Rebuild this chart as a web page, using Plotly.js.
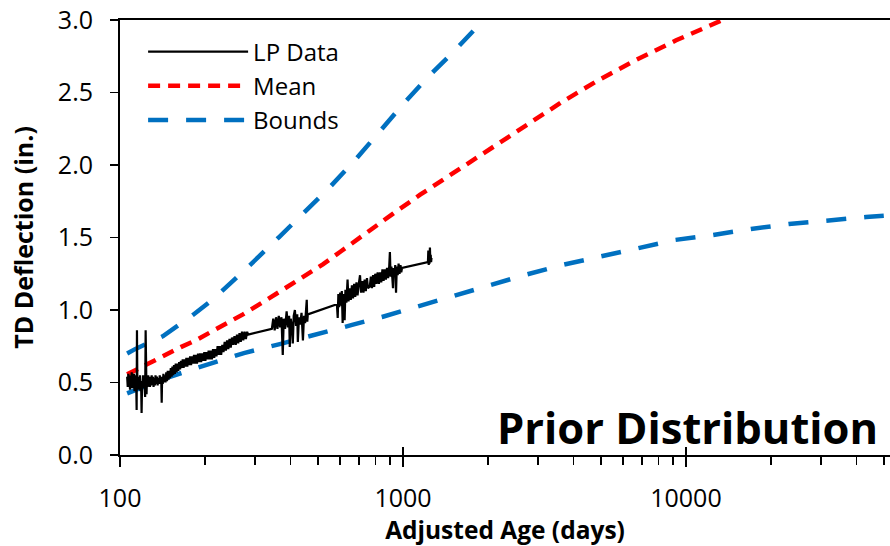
<!DOCTYPE html>
<html>
<head>
<meta charset="utf-8">
<script src="https://cdn.plot.ly/plotly-3.0.1.min.js"></script>
<style>
  html, body { margin: 0; padding: 0; background: #fff; }
  #chart { width: 890px; height: 546px; }
</style>
</head>
<body>
<div id="chart"></div>
<script>
// Measured TD deflection (in.) against adjusted age (days)
const lpDays = [
  106, 106.5, 107, 107.5, 108, 108.5, 109, 109.5, 110, 110.5, 111, 111.5, 112, 112.5, 113, 113.5,
  114, 114.5, 114.8, 115.2, 115.7, 116.2, 116.7, 117.2, 117.7, 118.2, 118.7, 119.2, 119.7, 120.2,
  120.7, 121.2, 121.7, 122.2, 122.7, 123.2, 123.6,
  124.1, 124.6, 125.2, 125.8, 126.4, 127, 127.6, 128.2, 128.8, 129.4,
  130, 130.7, 131.4, 132.1, 132.8, 133.5, 134.2, 135, 135.8, 136.6,
  137.4, 138.2, 139, 139.8, 140.4, 140.9, 141.6, 142.4, 143.2, 144,
  144.8, 145.7, 146.6, 147.5, 148.4, 149.3, 150.2, 151.2, 152.2, 153.2,
  154.2, 155.2, 156.3, 157.4, 158.5, 159.6, 160.7, 161.8, 163, 164.2,
  165.4, 166.6, 167.8, 169, 170.3, 171.6, 172.9, 174.2, 175.5, 176.9,
  178.3, 179.7, 181.1, 182.6, 184.1, 185.6, 187.1, 188.7, 190.3, 191.9,
  193.5, 195.2, 196.9, 198.6, 200.3, 202.1, 203.9, 205.7, 207.5, 209.4,
  211.3, 213.2, 215.2, 217.2, 219.2, 221.3, 223.4, 225.5, 227.7, 229.9,
  232.1, 234.4, 236.7, 239, 241.4, 243.8, 246.2, 248.7, 251.2, 253.8,
  256.4, 259, 261.7, 264.4, 267.1, 269.9, 272.7, 275.6, 278.5, 281.4,
  283.5,
  344, 348, 352, 356, 360, 364, 368, 372, 376, 379, 383, 388, 392, 396, 398, 401, 405, 408, 411,
  415, 419, 423, 425, 429, 433, 438, 443, 447, 451, 455, 457, 459, 461,
  584, 588, 591, 595, 600, 605, 608, 612, 616, 619, 622, 626, 631, 637, 642, 648, 654, 660, 666,
  672, 678, 685, 691, 698, 705, 711, 718, 725, 732, 739, 746, 752,
  763, 770, 777, 784, 791, 798, 806, 814, 822, 830, 838, 846, 854, 862, 870, 878, 886, 894, 899,
  904, 910, 917, 922, 927, 933, 939, 945, 951, 958, 965, 972, 980, 986, 992,
  1225, 1229, 1233, 1237, 1241, 1245, 1249, 1253, 1257, 1261
];
const lpDefl = [
  0.54, 0.47, 0.56, 0.49, 0.53, 0.45, 0.55, 0.50, 0.57, 0.46, 0.52, 0.48, 0.56, 0.44, 0.53, 0.49,
  0.55, 0.31, 0.86, 0.47, 0.54, 0.45, 0.52, 0.48, 0.55, 0.44, 0.51, 0.29, 0.50, 0.47,
  0.55, 0.46, 0.53, 0.48, 0.40, 0.86, 0.50,
  0.42, 0.54, 0.47, 0.55, 0.48, 0.54, 0.47, 0.53, 0.48, 0.55,
  0.49, 0.54, 0.47, 0.53, 0.48, 0.55, 0.49, 0.54, 0.48, 0.53,
  0.49, 0.55, 0.49, 0.54, 0.36, 0.54, 0.49, 0.56, 0.50, 0.55,
  0.50, 0.57, 0.51, 0.58, 0.52, 0.58, 0.53, 0.60, 0.54, 0.61,
  0.55, 0.62, 0.56, 0.63, 0.57, 0.63, 0.58, 0.64, 0.59, 0.65,
  0.60, 0.66, 0.60, 0.66, 0.61, 0.67, 0.61, 0.67, 0.62, 0.68,
  0.62, 0.68, 0.63, 0.69, 0.63, 0.69, 0.63, 0.70, 0.64, 0.70,
  0.64, 0.70, 0.65, 0.71, 0.65, 0.71, 0.66, 0.72, 0.66, 0.72,
  0.66, 0.73, 0.67, 0.73, 0.68, 0.75, 0.69, 0.75, 0.69, 0.76,
  0.71, 0.78, 0.72, 0.79, 0.73, 0.80, 0.74, 0.81, 0.76, 0.82,
  0.76, 0.83, 0.77, 0.84, 0.78, 0.85, 0.79, 0.85, 0.80, 0.85,
  0.83,
  0.87, 0.94, 0.86, 0.95, 0.87, 0.96, 0.88, 0.95, 0.69, 0.94, 0.87, 0.99, 0.88, 0.96, 0.745, 0.94, 0.89, 0.77, 0.96,
  1.00, 0.89, 0.97, 0.78, 0.95, 0.90, 0.98, 0.79, 0.96, 0.91, 0.99, 1.07, 0.92, 0.97,
  1.04, 0.945, 1.11, 1.02, 1.12, 1.03, 1.13, 0.91, 1.11, 1.04, 0.93, 1.14, 1.05, 1.21, 1.06, 1.15, 1.07, 1.17, 1.08,
  1.18, 1.09, 1.19, 1.10, 1.18, 1.24, 1.12, 1.20, 1.12, 1.21, 1.13, 1.22, 1.15,
  1.16, 1.23, 1.15, 1.24, 1.16, 1.25, 1.18, 1.26, 1.18, 1.26, 1.19, 1.28, 1.20, 1.28, 1.21, 1.29, 1.22, 1.30, 1.40,
  1.23, 1.30, 1.22, 1.15, 1.29, 1.23, 1.31, 1.12, 1.30, 1.24, 1.32, 1.25, 1.31, 1.26, 1.29,
  1.33, 1.41, 1.31, 1.39, 1.32, 1.43, 1.34, 1.38, 1.33, 1.36
];

// Prior mean prediction
const meanDays = [106, 126, 144, 164, 186, 211, 237, 272, 336, 386, 447, 521, 604, 750, 923, 1150,
  1443, 1982, 2679, 3614, 4850, 6660, 9230, 12880, 15000];
const meanDefl = [0.556, 0.632, 0.688, 0.744, 0.793, 0.85, 0.90, 0.97, 1.08, 1.155, 1.235, 1.315,
  1.405, 1.54, 1.665, 1.795, 1.92, 2.10, 2.26, 2.43, 2.58, 2.725, 2.86, 2.98, 3.04];

// Upper and lower prior bounds
const upperDays = [106, 113, 142, 181, 215, 251, 288, 365, 447, 552, 687, 849, 1016, 1216, 1490, 1841, 2100];
const upperDefl = [0.70, 0.73, 0.82, 0.966, 1.08, 1.20, 1.31, 1.503, 1.676, 1.848, 2.048, 2.262,
  2.434, 2.60, 2.77, 2.959, 3.08];
const lowerDays = [106, 111, 142, 182, 215, 274, 367, 479, 661, 843, 1077, 1466, 1982, 2679, 3645,
  4930, 6717, 9150, 12450, 16970, 23120, 31500, 43250, 50000];
const lowerDefl = [0.425, 0.441, 0.524, 0.593, 0.641, 0.703, 0.765, 0.828, 0.897, 0.952, 1.014, 1.09,
  1.166, 1.24, 1.31, 1.366, 1.428, 1.483, 1.517, 1.559, 1.593, 1.62, 1.641, 1.65];

// Axis ticks
const xMajorTicks = [100, 1000, 10000];
const xMajorLabels = ['100', '1000', '10000'];
const xMinorTicks = [200, 300, 400, 500, 600, 700, 800, 900,
  2000, 3000, 4000, 5000, 6000, 7000, 8000, 9000,
  20000, 30000, 40000, 50000];
const xRange = [100, 52600];

const FONT = '"Open Sans", Lato, "Liberation Sans", sans-serif';
const BLUE = '#0070C0';
const RED = '#FF0000';

const traces = [
  {
    x: upperDays, y: upperDefl, type: 'scatter', mode: 'lines', name: 'Bounds',
    legendgroup: 'bounds', legendrank: 3,
    line: { color: BLUE, width: 4.5, dash: '20px,18px' }
  },
  {
    x: lowerDays, y: lowerDefl, type: 'scatter', mode: 'lines', name: 'Bounds',
    legendgroup: 'bounds', showlegend: false,
    line: { color: BLUE, width: 4.5, dash: '20px,18px' }
  },
  {
    x: meanDays, y: meanDefl, type: 'scatter', mode: 'lines', name: 'Mean',
    legendrank: 2,
    line: { color: RED, width: 4.5, dash: '12px,8px' }
  },
  {
    x: lpDays, y: lpDefl, type: 'scatter', mode: 'lines', name: 'LP Data',
    legendrank: 1,
    line: { color: '#000', width: 2.2 }
  },
  {
    // carrier for the inward half of the major x ticks
    x: [], y: [], type: 'scatter', mode: 'lines', xaxis: 'x2',
    showlegend: false, hoverinfo: 'skip'
  }
];

const logRange = xRange.map(v => Math.log10(v));

const layout = {
  width: 890, height: 546,
  margin: { l: 120, r: 0, t: 20, b: 91 },
  paper_bgcolor: '#fff', plot_bgcolor: '#fff',
  font: { family: FONT, size: 24, color: '#000' },
  showlegend: true,
  legend: {
    x: 0.03, y: 0.978, xanchor: 'left', yanchor: 'top',
    bgcolor: 'rgba(0,0,0,0)', borderwidth: 0,
    itemwidth: 100, tracegroupgap: 0,
    font: { family: FONT, size: 24, color: '#000' }
  },
  xaxis: {
    type: 'log', range: logRange,
    tickmode: 'array', tickvals: xMajorTicks, ticktext: xMajorLabels,
    ticks: 'outside', ticklen: 10, tickwidth: 1.5, tickcolor: '#000',
    ticklabelstandoff: 10,
    minor: { tickmode: 'array', tickvals: xMinorTicks, ticks: 'outside', ticklen: 8, tickwidth: 1.5, tickcolor: '#000', showgrid: false },
    showline: true, linecolor: '#000', linewidth: 2, mirror: true,
    showgrid: false, zeroline: false,
    tickfont: { family: FONT, size: 25, color: '#000' },
    title: { text: '<b>Adjusted Age (days)</b>', standoff: 2, font: { family: FONT, size: 24.5, color: '#000' } }
  },
  xaxis2: {
    type: 'log', range: logRange, overlaying: 'x', anchor: 'y', side: 'bottom',
    tickmode: 'array', tickvals: xMajorTicks,
    ticks: 'inside', ticklen: 8, tickwidth: 1.5, tickcolor: '#000',
    showticklabels: false, showline: false, showgrid: false, zeroline: false
  },
  yaxis: {
    range: [0, 3], dtick: 0.5, tick0: 0, tickformat: '.1f',
    ticks: 'outside', ticklen: 8, tickwidth: 1.5, tickcolor: '#000',
    ticklabelstandoff: 12,
    showline: true, linecolor: '#000', linewidth: 2,
    showgrid: false, zeroline: false,
    tickfont: { family: FONT, size: 25, color: '#000' },
    title: { text: '<b>TD Deflection (in.)</b>', standoff: 17, font: { family: FONT, size: 25, color: '#000' } }
  },
  annotations: [{
    xref: 'paper', yref: 'paper', x: 0.987, y: 0.064,
    xanchor: 'right', yanchor: 'middle', showarrow: false,
    text: '<b>Prior Distribution</b>',
    font: { family: FONT, size: 43.5, color: '#000' }
  }]
};

Plotly.newPlot('chart', traces, layout, { staticPlot: true, displayModeBar: false });
</script>
</body>
</html>
